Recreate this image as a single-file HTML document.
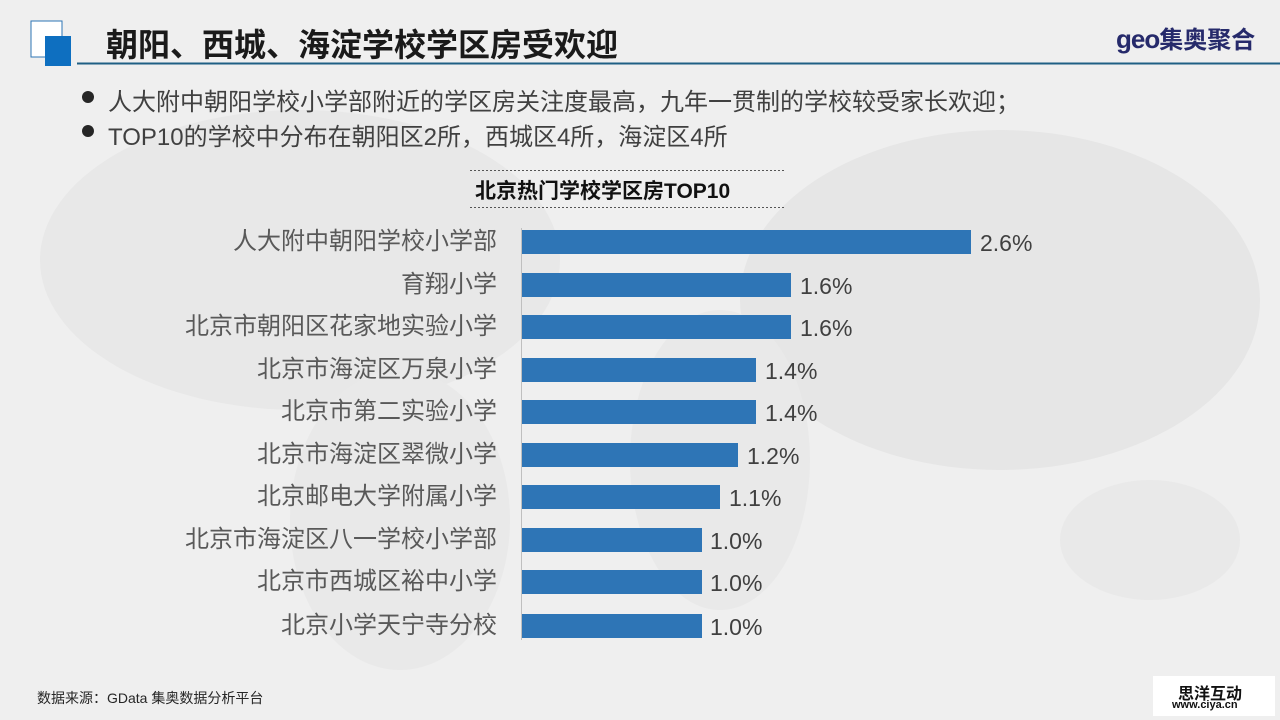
<!DOCTYPE html>
<html><head><meta charset="utf-8"><style>
body{margin:0}
#p{position:relative;width:1280px;height:720px;overflow:hidden;background:#efefef;font-family:"Liberation Sans","Noto Sans CJK SC",sans-serif;color:#404040}
.a{position:absolute;white-space:nowrap}
.lbl{position:absolute;right:783px;font-size:24px;color:#595959;line-height:24px}
.bar{position:absolute;left:522px;height:24px;background:#2e75b6}
.val{position:absolute;font-size:23px;color:#404040;line-height:24px}
</style></head><body><div id="p">
<svg class="a" style="left:0;top:0" width="1280" height="720">
<ellipse cx="300" cy="260" rx="260" ry="150" fill="#e8e8e8"/>
<ellipse cx="400" cy="520" rx="110" ry="150" fill="#e9e9e9"/>
<ellipse cx="1000" cy="300" rx="260" ry="170" fill="#e6e6e6"/>
<ellipse cx="720" cy="460" rx="90" ry="150" fill="#e9e9e9"/>
<ellipse cx="1150" cy="540" rx="90" ry="60" fill="#e9e9e9"/>
<rect x="31" y="21" width="31" height="36" fill="#fff" stroke="#2e75b6" stroke-width="1"/>
<rect x="45" y="36" width="26" height="30" fill="#0e6fc0"/>
<line x1="77" y1="63.5" x2="1280" y2="63.5" stroke="#1f5f84" stroke-width="2"/>
<line x1="470" y1="170.5" x2="785" y2="170.5" stroke="#555" stroke-dasharray="2,2"/>
<line x1="470" y1="207.5" x2="785" y2="207.5" stroke="#555" stroke-dasharray="2,2"/>
<line x1="521.5" y1="228" x2="521.5" y2="640" stroke="#bfbfbf"/>
<circle cx="88" cy="97" r="6" fill="#262626"/>
<circle cx="88" cy="131" r="6" fill="#262626"/>
</svg>
<div class="a" style="left:106px;top:20px;font-size:32px;font-weight:bold;color:#1a1a1a">朝阳、西城、海淀学校学区房受欢迎</div>
<div class="a" style="left:1116px;top:20px;font-size:26px;font-weight:bold;color:#262a6b;letter-spacing:-1px">geo<span style="font-size:24px;letter-spacing:0">集奥聚合</span></div>
<div class="a" style="left:108px;top:82px;font-size:24px">人大附中朝阳学校小学部附近的学区房关注度最高，九年一贯制的学校较受家长欢迎；</div>
<div class="a" style="left:108px;top:117px;font-size:24px">TOP10的学校中分布在朝阳区2所，西城区4所，海淀区4所</div>
<div class="a" style="left:475px;top:175px;font-size:21px;font-weight:bold;color:#111">北京热门学校学区房TOP10</div>
<div class="lbl" style="top:230px">人大附中朝阳学校小学部</div><div class="bar" style="top:230px;width:449px"></div><div class="val" style="left:980px;top:231px">2.6%</div>
<div class="lbl" style="top:273px">育翔小学</div><div class="bar" style="top:273px;width:269px"></div><div class="val" style="left:800px;top:274px">1.6%</div>
<div class="lbl" style="top:315px">北京市朝阳区花家地实验小学</div><div class="bar" style="top:315px;width:269px"></div><div class="val" style="left:800px;top:316px">1.6%</div>
<div class="lbl" style="top:358px">北京市海淀区万泉小学</div><div class="bar" style="top:358px;width:234px"></div><div class="val" style="left:765px;top:359px">1.4%</div>
<div class="lbl" style="top:400px">北京市第二实验小学</div><div class="bar" style="top:400px;width:234px"></div><div class="val" style="left:765px;top:401px">1.4%</div>
<div class="lbl" style="top:443px">北京市海淀区翠微小学</div><div class="bar" style="top:443px;width:216px"></div><div class="val" style="left:747px;top:444px">1.2%</div>
<div class="lbl" style="top:485px">北京邮电大学附属小学</div><div class="bar" style="top:485px;width:198px"></div><div class="val" style="left:729px;top:486px">1.1%</div>
<div class="lbl" style="top:528px">北京市海淀区八一学校小学部</div><div class="bar" style="top:528px;width:180px"></div><div class="val" style="left:710px;top:529px">1.0%</div>
<div class="lbl" style="top:570px">北京市西城区裕中小学</div><div class="bar" style="top:570px;width:180px"></div><div class="val" style="left:710px;top:571px">1.0%</div>
<div class="lbl" style="top:614px">北京小学天宁寺分校</div><div class="bar" style="top:614px;width:180px"></div><div class="val" style="left:710px;top:615px">1.0%</div>
<div class="a" style="left:37px;top:688px;font-size:14px;color:#262626">数据来源：GData 集奥数据分析平台</div>
<div class="a" style="left:1153px;top:676px;width:122px;height:40px;background:#fff"></div>
<div class="a" style="left:1178px;top:680px;font-size:16px;font-weight:bold;color:#111">思洋互动</div>
<div class="a" style="left:1172px;top:699px;font-size:11px;font-weight:bold;color:#111">www.ciya.cn</div>
</div></body></html>
